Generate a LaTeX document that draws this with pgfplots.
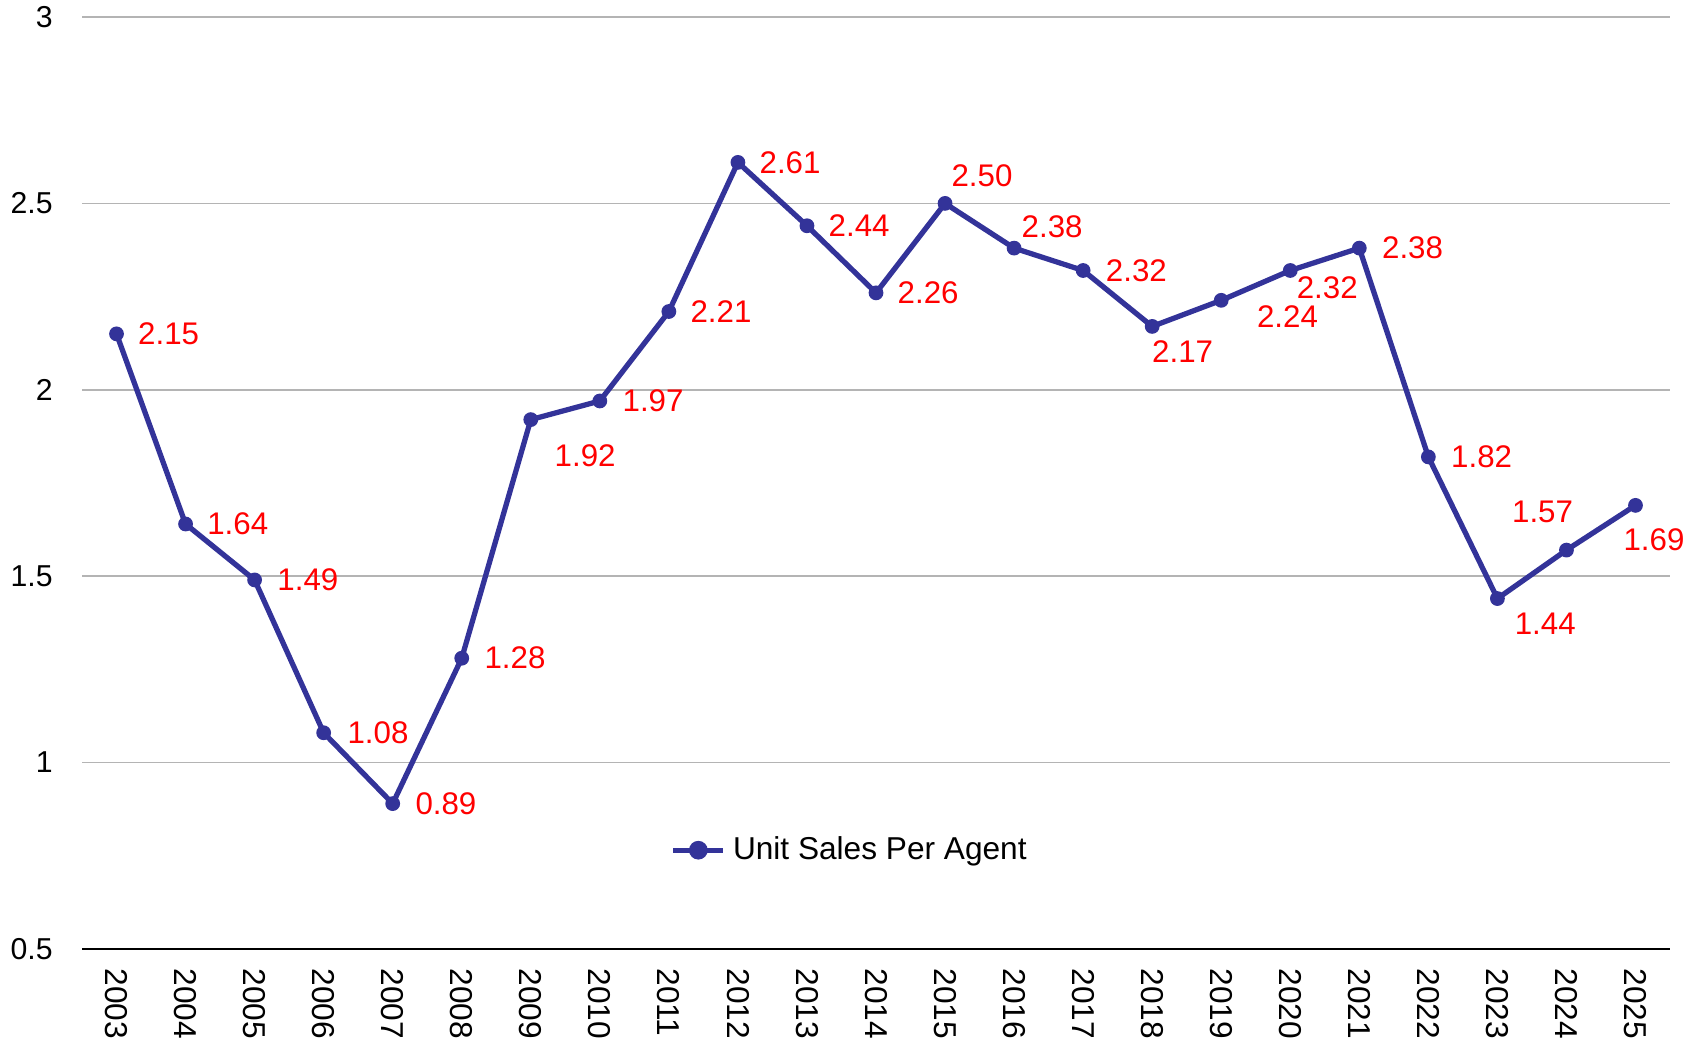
\documentclass[border=0pt]{standalone}
\usepackage{pgfplots}
\usepackage{pgfplotstable}
\pgfplotsset{compat=1.18}
\usepackage{fontspec}
\setmainfont{Liberation Sans}
\definecolor{lineblue}{HTML}{333399}
\definecolor{gridgray}{HTML}{B4B4B4}
\pgfplotstableread{
x year y dx dy
0 2003 2.15 48 0
1 2004 1.64 48 0
2 2005 1.49 49 0
3 2006 1.08 50 0
4 2007 0.89 49 0
5 2008 1.28 49 0
6 2009 1.92 50 -33
7 2010 1.97 49 0
8 2011 2.21 48 0
9 2012 2.61 48 0
10 2013 2.44 48 0
11 2014 2.26 48 0
12 2015 2.50 34 25
13 2016 2.38 35 20
14 2017 2.32 49 0
15 2018 2.17 28 -23
16 2019 2.24 61 -15
17 2020 2.32 34 -16
18 2021 2.38 49 0
19 2022 1.82 49 0
20 2023 1.44 44 -23
21 2024 1.57 -22 35
22 2025 1.69 17 -32
}\datatable
\begin{document}
\begin{tikzpicture}
\useasboundingbox (-0.82cm,-0.91cm) rectangle (16.22cm,9.49cm);
\begin{axis}[
  at={(0,0)}, anchor=south west,
  scale only axis,
  width=15.88cm, height=9.32cm,
  xmin=-0.5, xmax=22.5,
  ymin=0.5, ymax=3,
  ytick={0.5,1,1.5,2,2.5,3},
  yticklabels={0.5,1,1.5,2,2.5,3},
  xtick={0,...,22},
  xticklabels={2003,2004,2005,2006,2007,2008,2009,2010,2011,2012,2013,2014,2015,2016,2017,2018,2019,2020,2021,2022,2023,2024,2025},
  x tick label style={rotate=-90, anchor=west, font=\fontsize{9}{10}\selectfont},
  y tick label style={font=\fontsize{8.6}{10}\selectfont},
  xticklabel shift=2pt,
  yticklabel shift=4.8pt,
  major tick length=0pt,
  axis x line*=bottom,
  axis y line*=left,
  x axis line style={black, line width=0.5pt, -},
  y axis line style={draw=none},
  ymajorgrids,
  grid style={gridgray, line width=0.45pt},
  legend style={at={(0.485,0.106)}, anchor=center, draw=none, fill=none,
    font=\fontsize{9}{11}\selectfont, inner sep=0pt},
  legend image code/.code={
    \draw[#1, mark=none] (0cm,0cm) -- (0.5cm,0cm);
    \fill[lineblue] (0.25cm,0cm) circle (1.9pt);
  },
  legend cell align=left,
  clip=false,
]
\addplot[lineblue, line width=1.5pt, mark=*, mark size=1.9pt,
  mark options={fill=lineblue, draw=lineblue, line width=0.4pt},
  visualization depends on={\thisrow{dx}\as\dx},
  visualization depends on={\thisrow{dy}\as\dy},
  nodes near coords,
  nodes near coords style={anchor=center, text=red,
    font=\fontsize{8.9}{10}\selectfont,
    xshift={\dx*0.3092pt}, yshift={\dy*0.3092pt},
    /pgf/number format/.cd, fixed, fixed zerofill, precision=2, assume math mode=true},
] table[x=x, y=y] {\datatable};
\addlegendentry{Unit Sales Per Agent}
\end{axis}
\end{tikzpicture}
\end{document}
